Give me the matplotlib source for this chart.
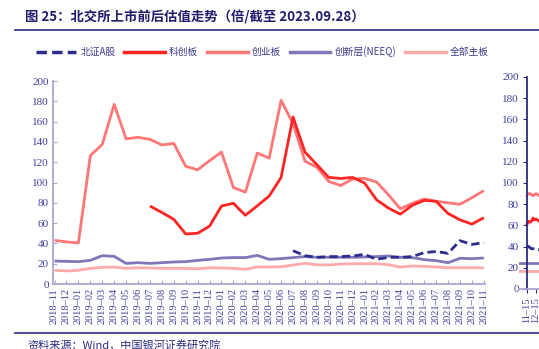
import numpy as np
import matplotlib
matplotlib.use('Agg')
import matplotlib.pyplot as plt
from matplotlib.lines import Line2D

plt.rcParams['font.family'] = ['Noto Sans CJK SC', 'DejaVu Sans']

nan = np.nan

# 月度数据 2018-11 ~ 2021-11
months = [f'{y}–{m:02d}' for y in range(2018, 2022) for m in range(1, 13)][10:47]

beizheng = [nan] * 20 + [32.8, 27.9, 26.3, 27, 27, 27.6, 29.2, 24.3, 26.3, 26.3, 27,
                         30.9, 32, 30.2, 42.7, 39, 40.7]
kechuang = [nan] * 8 + [76.8, 70.5, 63.7, 49.3, 50, 57, 76.8, 79.5, 67.7, 77, 86.7,
                        105, 164.5, 130, 117.5, 105, 104, 105, 99.5, 83, 74.8, 68.8,
                        77.5, 82.4, 81.4, 69.5, 63.2, 59, 65.3]
chuangye = [43, 41.5, 40.5, 126.5, 137.5, 177, 143, 144.5, 142.5, 137, 138.5, 116,
            112.5, 121.5, 130, 95, 90.5, 129, 124, 181, 158, 121, 115, 101, 97,
            103.5, 104, 100.5, 88, 74, 79.5, 83.7, 81.5, 80, 78.5, 85, 92]
chuangxin = [22.6, 22.3, 22, 23.3, 27.9, 27.2, 20.3, 21, 20.3, 21, 21.7, 22, 23.3,
             24.3, 25.6, 26, 26, 28.2, 24.3, 25, 26, 27, 26.3, 26.3, 26.3, 26.3,
             26.6, 27, 27.6, 26.3, 26, 24, 23, 21, 25.3, 25, 25.6]
zhuban = [13.5, 12.8, 13.5, 15.4, 16.4, 16.7, 15.4, 16, 15.8, 15.4, 15.4, 15.4, 15,
          16, 15.8, 15.4, 14.5, 16.7, 16.7, 17, 18.7, 20.3, 19, 18.7, 19.7, 20, 20,
          20, 19, 16.7, 17.7, 17.4, 16.7, 16, 16, 16, 16]

# 右侧日度图（只露出一小段）
r_days = [0, 5, 10, 15, 20, 25, 30, 35, 40, 45]
r_beizheng = [41, 40, 39, 38, 38, 38, 37, 37, 37, 37]
r_kechuang = [61, 64, 63, 64, 67, 65, 66, 65, 64, 65]
r_chuangye = [88, 90, 90, 89, 88, 89, 90, 89, 88, 89]
r_days2 = [-28, 0, 15, 30, 45]
r_chuangxin = [25, 25, 25, 25, 25]
r_zhuban = [17, 17, 17, 17, 17]
r_tick_pos = [0, 30, 61, 92, 120]
r_tick_labels = ['11–15', '12–15', '01–15', '02–15', '03–15']

names = ['北证A股', '科创板', '创业板', '创新层(NEEQ)', '全部主板']
colors = ['#2E2B8F', '#FF2424', '#FF7676', '#7E78B8', '#FFAAAA']
styles = [(0, (3, 1.5)), '-', '-', '-', '-']

W, H = 539, 349
fig = plt.figure(figsize=(W / 100, H / 100), dpi=100)

navy = '#2B2A80'
lav = '#A9A6D6'
tick_col = '#4040A0'
serif = 'Liberation Serif'

# 左图
ax = fig.add_axes([53 / W, (H - 284) / H, 432 / W, 203 / H])
x = np.arange(len(months))
series = [beizheng, kechuang, chuangye, chuangxin, zhuban]
for k in [4, 3, 2, 1, 0]:
    ax.plot(x, series[k], color=colors[k], lw=2, ls=styles[k], solid_capstyle='butt')
ax.set_xlim(-0.13, 36.1)
ax.set_ylim(0, 200)
ax.set_yticks(range(0, 201, 20))
ax.set_xticks(x)
ax.set_xticklabels(months, rotation=90)
for s in ['top', 'right']:
    ax.spines[s].set_visible(False)
for s in ['left', 'bottom']:
    ax.spines[s].set_color(lav)
    ax.spines[s].set_linewidth(1.3)
ax.tick_params(axis='both', direction='in', length=3, color=lav, width=0.8, pad=3,
               labelcolor=tick_col, labelfontfamily=serif)
ax.tick_params(axis='x', labelsize=7.5)
ax.tick_params(axis='y', labelsize=8)
ax.set_facecolor('none')

# 右图
ax2 = fig.add_axes([519 / W, (H - 289) / H, 0.5, 212 / H])
ax2.spines['left'].set_position(('data', 0))
ax2.plot(r_days2, r_zhuban, color=colors[4], lw=2)
ax2.plot(r_days2, r_chuangxin, color=colors[3], lw=2)
ax2.plot(r_days, r_chuangye, color=colors[2], lw=2)
ax2.plot(r_days, r_kechuang, color=colors[1], lw=2)
ax2.plot(r_days, r_beizheng, color=colors[0], lw=2, ls=styles[0])
ax2.set_xlim(-26.7, 871)
ax2.set_ylim(0, 200)
ax2.set_yticks(range(0, 201, 20))
ax2.set_xticks(r_tick_pos)
ax2.set_xticklabels(r_tick_labels, rotation=90)
for s in ['top', 'right']:
    ax2.spines[s].set_visible(False)
ax2.spines['left'].set_color(navy)
ax2.spines['bottom'].set_color(lav)
ax2.spines['left'].set_linewidth(1.3)
ax2.spines['bottom'].set_linewidth(1.3)
ax2.tick_params(axis='both', direction='out', length=3, color=navy, width=0.8, pad=3,
                labelcolor=tick_col, labelfontfamily=serif)
ax2.tick_params(axis='x', labelsize=7.5)
ax2.tick_params(axis='y', labelsize=8)
ax2.set_facecolor('none')

# 图例
handles = [Line2D([], [], color=c, lw=2.5, ls=st) for c, st in zip(colors, styles)]
leg = fig.legend(handles, names, loc='center', bbox_to_anchor=(262 / W, 1 - 52 / H),
                 ncol=5, frameon=False, fontsize=7, handlelength=4.2,
                 handletextpad=0.4, columnspacing=0.9)
for t in leg.get_texts():
    t.set_color('#3A3A90')

# 标题与来源
fig.text(25 / W, 1 - 17 / H, '图 25：北交所上市前后估值走势（倍/截至 2023.09.28）',
         fontsize=9.6, fontweight='bold', color='#1F1D6B', va='center', ha='left')
fig.add_artist(Line2D([15 / W, 1], [1 - 30 / H, 1 - 30 / H], color='#3F3C8E', lw=1.3,
                      transform=fig.transFigure))
fig.add_artist(Line2D([15 / W, 1], [1 - 333 / H, 1 - 333 / H], color='#3F3C8E', lw=1.3,
                      transform=fig.transFigure))
fig.text(27 / W, 1 - 345 / H, '资料来源：Wind，中国银河证券研究院', fontsize=8,
         style='italic', color=navy, va='center', ha='left')

fig.savefig('out.png', dpi=100)
